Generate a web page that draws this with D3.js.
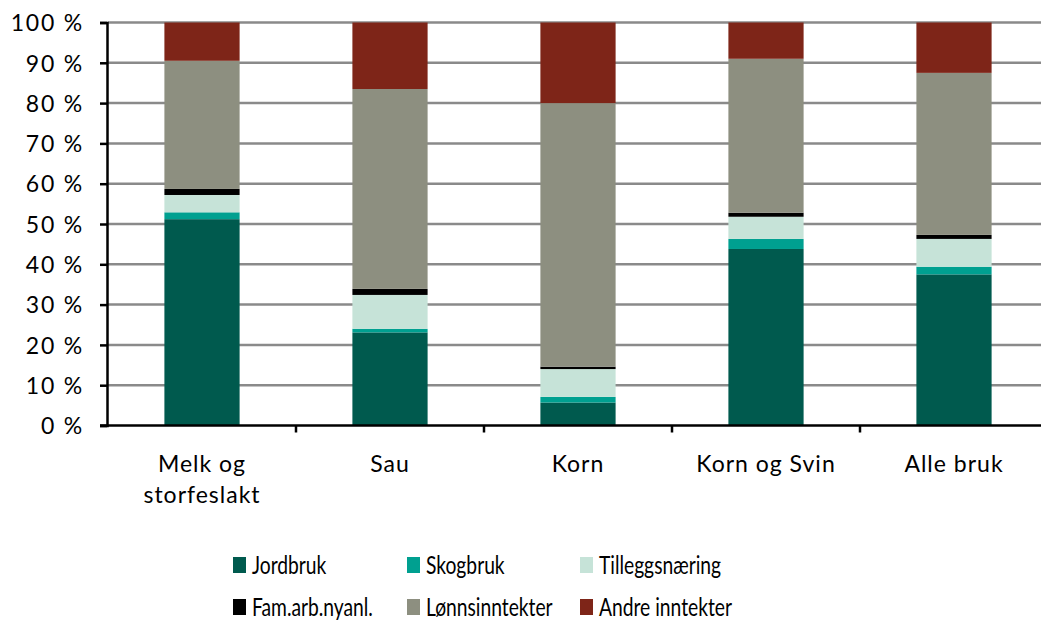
<!DOCTYPE html>
<html>
<head>
<meta charset="utf-8">
<script src="https://cdn.jsdelivr.net/npm/d3@7"></script>
<style>
  body { margin: 0; background: #fff; }
  svg text { font-family: Lato, "Liberation Sans", sans-serif; fill: #000; }
</style>
</head>
<body>
<div id="chart"></div>
<script>
// Kategorier og serier (andeler i prosent)
const categories = [["Melk og", "storfeslakt"], ["Sau"], ["Korn"], ["Korn og Svin"], ["Alle bruk"]];
const seriesNames = ["Jordbruk", "Skogbruk", "Tilleggsnæring", "Fam.arb.nyanl.", "Lønnsinntekter", "Andre inntekter"];
const jordbruk = [51.2, 23.1, 5.7, 43.8, 37.5];
const skogbruk = [1.7, 0.9, 1.4, 2.5, 1.9];
const tillegg = [4.3, 8.4, 6.9, 5.5, 6.9];
const famArb = [1.5, 1.5, 0.6, 1.0, 1.0];
const lonn = [31.8, 49.6, 65.4, 38.2, 40.2];
const andre = [9.5, 16.5, 20.0, 9.0, 12.5];
const yTicks = [0, 10, 20, 30, 40, 50, 60, 70, 80, 90, 100];

const colors = ["#005a4e", "#00a090", "#c6e3d8", "#000000", "#8d8f80", "#7e2518"];

const W = 1041, H = 626;
const svg = d3.select("#chart").append("svg")
    .attr("width", W).attr("height", H);

// Skalaer
const x = d3.scaleBand()
    .domain(d3.range(categories.length))
    .range([108, 1048])
    .paddingInner(0.6)
    .paddingOuter(0.3);
const y = d3.scaleLinear().domain([0, 100]).range([425.5, 22.5]);

// Stablede data
const rows = categories.map((c, i) => {
    const r = {};
    [jordbruk, skogbruk, tillegg, famArb, lonn, andre].forEach((s, k) => r[seriesNames[k]] = s[i]);
    return r;
});
const stack = d3.stack().keys(seriesNames)(rows);

// Rutenett
svg.append("g").selectAll("line")
    .data(yTicks.filter(d => d > 0))
    .join("line")
    .attr("x1", 108).attr("x2", W)
    .attr("y1", d => y(d)).attr("y2", d => y(d))
    .attr("stroke", "#8a8a8a").attr("stroke-width", 2.5);

// Stolper
svg.append("g").selectAll("g")
    .data(stack)
    .join("g")
    .attr("fill", (d, i) => colors[i])
    .selectAll("rect")
    .data(d => d)
    .join("rect")
    .attr("x", (d, i) => x(i))
    .attr("width", x.bandwidth())
    .attr("y", d => y(d[1]))
    .attr("height", d => y(d[0]) - y(d[1]));

// Y-akse
const yAxis = svg.append("g")
    .attr("transform", "translate(107,0)")
    .call(d3.axisLeft(y).tickValues(yTicks).tickSize(7).tickPadding(16).tickFormat(d => d + " %"));
yAxis.select(".domain").attr("stroke", "#000").attr("stroke-width", 2.5);
yAxis.selectAll(".tick line").attr("stroke", "#000").attr("stroke-width", 2.5);
yAxis.selectAll("text")
    .style("font-size", "23px")
    .style("letter-spacing", "1.8px")
    .attr("dy", "0.36em");

// X-akse
const xAxisG = svg.append("g").attr("transform", `translate(0,${y(0)})`);
xAxisG.append("line")
    .attr("x1", 100).attr("x2", W)
    .attr("stroke", "#000").attr("stroke-width", 2.5);
xAxisG.selectAll(".sep")
    .data(d3.range(categories.length))
    .join("line")
    .attr("x1", i => x(i) + x.bandwidth() / 2 + x.step() / 2)
    .attr("x2", i => x(i) + x.bandwidth() / 2 + x.step() / 2)
    .attr("y1", 0).attr("y2", 7)
    .attr("stroke", "#000").attr("stroke-width", 2.5);

xAxisG.selectAll(".lab")
    .data(categories)
    .join("text")
    .attr("text-anchor", "middle")
    .attr("transform", (d, i) => `translate(${x(i) + x.bandwidth() / 2},0)`)
    .style("font-size", "23px")
    .style("letter-spacing", "1px")
    .selectAll("tspan")
    .data(d => d)
    .join("tspan")
    .attr("x", 0)
    .attr("y", (d, j) => 46 + j * 31)
    .text(d => d);

// Tegnforklaring
const legendCols = [233, 407, 580];
const legend = svg.append("g").selectAll("g")
    .data(seriesNames)
    .join("g")
    .attr("transform", (d, i) => `translate(${legendCols[i % 3]},${i < 3 ? 557 : 599})`);
legend.append("rect")
    .attr("width", 13).attr("height", 16)
    .attr("fill", (d, i) => colors[i]);
legend.append("text")
    .attr("transform", "translate(19,16.5) scale(0.77,1)")
    .style("font-size", "25px")
    .text(d => d);
</script>
</body>
</html>
